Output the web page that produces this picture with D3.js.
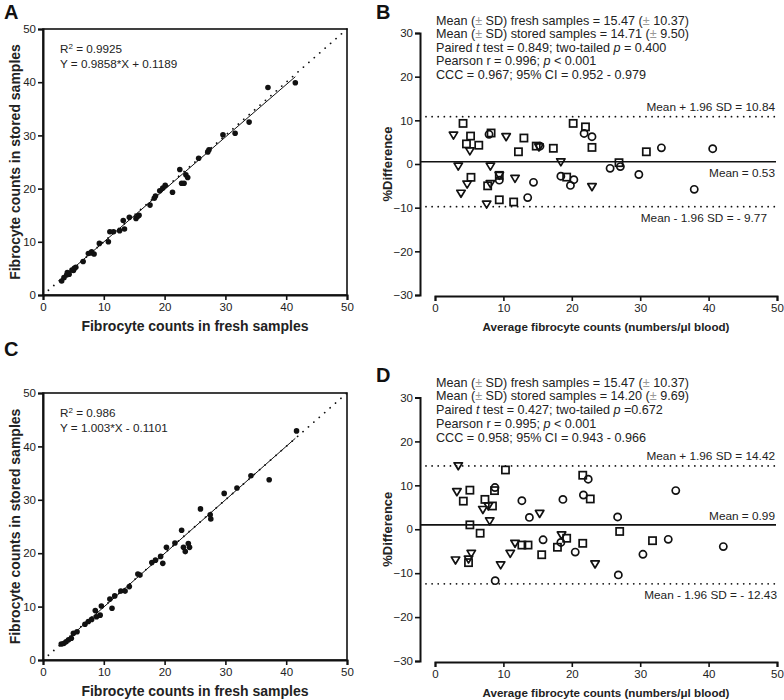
<!DOCTYPE html>
<html><head><meta charset="utf-8">
<script src="https://cdn.jsdelivr.net/npm/d3@7"></script>
<style>
body{margin:0;background:#fff;}
svg{display:block;font-family:"Liberation Sans",Arial,sans-serif;}
</style></head>
<body><svg id="c" width="784" height="700"></svg>
<script>
// ---------- DATA ----------
const ticks50 = [0,10,20,30,40,50];
const ticksPct = [-30,-20,-10,0,10,20,30];

// Panel A: fresh (x) vs stored (y)
const aPoints = [[3.07,2.63],[3.45,3.26],[3.9,3.76],[4.3,3.9],[4.0,4.2],[4.77,4.7],[5.0,4.6],[5.15,5.0],[5.4,5.2],[6.6,6.3],[7.46,7.8],[7.9,7.9],[8.0,8.1],[8.4,7.7],[9.27,9.7],[10.75,10.0],[11.0,11.9],[11.6,11.9],[12.6,12.1],[13.2,14.0],[13.4,12.4],[14.2,14.6],[15.3,14.4],[15.6,14.8],[15.8,15.0],[17.6,16.9],[18.3,18.2],[18.5,18.6],[19.2,19.6],[19.7,20.1],[20.1,20.6],[21.3,19.3],[22.5,23.6],[22.8,21.0],[23.2,21.0],[23.5,22.6],[23.8,22.1],[25.6,25.7],[27.1,26.9],[27.3,27.3],[29.6,30.1],[31.6,30.4],[33.9,32.5],[37.0,39.0],[41.5,39.9]];
const aFit = {slope:0.9858, intercept:0.1189, from:3, to:41.5};
const aText = ["0.9925","Y = 0.9858*X + 0.1189"];

// Panel C
const cPoints = [[3.0,3.0],[3.4,3.1],[3.8,3.4],[4.2,3.8],[4.66,4.06],[5.0,5.0],[5.6,5.3],[6.9,6.7],[7.46,7.2],[8.0,7.6],[8.8,8.1],[9.4,8.4],[8.6,9.25],[9.6,10.1],[11.0,11.4],[11.35,9.7],[11.8,12.0],[12.8,12.9],[13.5,12.9],[14.2,13.75],[15.6,16.1],[15.95,15.9],[17.9,18.25],[18.5,18.7],[19.35,19.4],[19.7,18.1],[20.3,21.1],[21.7,21.9],[22.8,24.3],[23.1,21.1],[23.4,20.3],[23.9,21.8],[24.1,21.1],[25.9,28.3],[27.5,27.2],[27.6,26.4],[29.8,31.2],[31.9,32.2],[34.2,34.5],[37.2,33.75],[41.7,42.9]];
const cFit = {slope:1.003, intercept:-0.1101, from:3, to:41.5};
const cText = ["0.986","Y = 1.003*X - 0.1101"];

// Panel B: Bland-Altman (average, %difference)
const bSquares = [[4.1,9.3],[5.2,6.4],[4.6,4.6],[6.4,4.3],[8.2,7.1],[13.0,5.95],[12.2,2.8],[14.8,4.1],[17.3,3.6],[20.2,9.3],[22.0,8.5],[22.95,3.8],[30.9,2.8],[26.9,0.3],[5.26,-3.05],[7.7,-5.0],[9.4,-8.2],[11.5,-8.7],[19.25,-3.0],[9.4,-2.6]];
const bCircles = [[7.9,6.8],[15.35,4.1],[21.8,7.0],[22.95,6.25],[33.1,3.7],[40.6,3.5],[25.6,-1.0],[27.1,-0.6],[29.8,-2.4],[37.9,-5.8],[9.4,-3.7],[14.4,-4.2],[13.55,-7.7],[18.4,-2.8],[19.8,-4.9],[20.3,-3.6]];
const bTriangles = [[2.7,6.6],[5.1,3.0],[10.4,6.25],[15.2,3.9],[18.4,0.5],[3.4,-0.5],[8.1,-0.5],[4.7,-4.6],[3.8,-6.7],[7.55,-9.2],[8.1,-4.5],[9.4,-2.6],[11.7,-3.3],[22.95,-5.2]];
const bLimits = {mean:0.53, upper:10.84, lower:-9.77};
const bLabels = ["Mean + 1.96 SD = 10.84","Mean = 0.53","Mean - 1.96 SD = - 9.77"];
const bStats = [
 [["Mean (",""],["±","pm"],[" SD) fresh samples = 15.47 (",""],["±","pm"],[" 10.37)",""]],
 [["Mean (",""],["±","pm"],[" SD) stored samples = 14.71 (",""],["±","pm"],[" 9.50)",""]],
 [["Paired ",""],["t","i"],[" test = 0.849; two-tailed ",""],["p","i"],[" = 0.400",""]],
 [["Pearson r = 0.996; ",""],["p","i"],[" < 0.001",""]],
 [["CCC = 0.967; 95% CI = 0.952 - 0.979",""]]
];

// Panel D
const dSquares = [[10.3,13.5],[21.6,12.3],[5.1,8.9],[4.14,6.4],[8.7,8.8],[7.3,6.8],[8.4,5.3],[22.7,6.9],[5.1,1.0],[6.6,-0.9],[27.0,-0.5],[4.9,-7.6],[12.7,-3.6],[13.6,-3.6],[15.6,-5.8],[17.9,-4.1],[19.25,-2.05],[21.6,-3.2],[31.8,-2.6]];
const dCircles = [[22.4,11.4],[8.77,9.5],[12.7,6.5],[18.7,6.8],[21.7,7.8],[13.8,2.7],[26.7,2.8],[35.2,8.8],[8.8,-11.7],[15.8,-2.4],[18.4,-3.0],[20.5,-5.2],[26.8,-10.4],[30.4,-5.7],[34.1,-2.3],[42.15,-3.95]];
const dTriangles = [[3.4,14.45],[3.2,8.55],[7.0,4.5],[7.8,5.3],[15.3,3.6],[8.0,1.9],[3.0,-7.0],[5.3,-5.5],[4.9,-6.8],[9.6,-8.1],[11.0,-5.5],[11.7,-3.2],[18.5,-1.3],[23.4,-7.9]];
const dLimits = {mean:0.99, upper:14.42, lower:-12.43};
const dLabels = ["Mean + 1.96 SD = 14.42","Mean = 0.99","Mean - 1.96 SD = - 12.43"];
const dStats = [
 [["Mean (",""],["±","pm"],[" SD) fresh samples = 15.47 (",""],["±","pm"],[" 10.37)",""]],
 [["Mean (",""],["±","pm"],[" SD) stored samples = 14.20 (",""],["±","pm"],[" 9.69)",""]],
 [["Paired ",""],["t","i"],[" test = 0.427; two-tailed ",""],["p","i"],[" =0.672",""]],
 [["Pearson r = 0.995; ",""],["p","i"],[" < 0.001",""]],
 [["CCC = 0.958; 95% CI = 0.943 - 0.966",""]]
];

// ---------- DRAW ----------
const svg = d3.select("#c");
const INK = "#111";
const TXT = "#222";

function letter(t,x,y){
  svg.append("text").attr("x",x).attr("y",y).attr("font-size",20).attr("font-weight","bold").attr("fill",INK).text(t);
}
function styleAxis(a){
  a.select(".domain").attr("stroke",INK).attr("stroke-width",2);
  a.selectAll(".tick line").attr("stroke",INK).attr("stroke-width",1.6);
  a.selectAll("text").attr("font-size",11.5).attr("fill",TXT).attr("font-family","Liberation Sans, Arial, sans-serif");
}

function scatterPanel(pts, fit, txt, top, bottom){
  const x = d3.scaleLinear().domain([0,50]).range([43,347]);
  const y = d3.scaleLinear().domain([0,50]).range([bottom,top]);
  const g = svg.append("g");
  g.append("rect").attr("x",43).attr("y",top).attr("width",304).attr("height",bottom-top)
    .attr("fill","none").attr("stroke",INK).attr("stroke-width",1.6);
  const xa = g.append("g").attr("transform",`translate(0,${bottom})`)
    .call(d3.axisBottom(x).tickValues(ticks50).tickSize(5).tickPadding(3));
  const ya = g.append("g").attr("transform",`translate(43,0)`)
    .call(d3.axisLeft(y).tickValues(ticks50).tickSize(5).tickPadding(2));
  styleAxis(xa); styleAxis(ya);
  g.append("line").attr("x1",x(0)).attr("y1",y(0)).attr("x2",x(50)).attr("y2",y(50))
    .attr("stroke",INK).attr("stroke-width",1.8).attr("stroke-dasharray","0.01,7.2").attr("stroke-linecap","round");
  g.append("line").attr("x1",x(fit.from)).attr("y1",y(fit.slope*fit.from+fit.intercept))
    .attr("x2",x(fit.to)).attr("y2",y(fit.slope*fit.to+fit.intercept))
    .attr("stroke",INK).attr("stroke-width",1);
  g.selectAll("circle.pt").data(pts).join("circle")
    .attr("cx",d=>x(d[0])).attr("cy",d=>y(d[1])).attr("r",2.8).attr("fill",INK);
  const t1 = g.append("text").attr("x",60).attr("y",top+24).attr("font-size",11.7).attr("fill",TXT);
  t1.append("tspan").text("R");
  t1.append("tspan").attr("font-size",8).attr("dy",-4.5).text("2");
  t1.append("tspan").attr("dy",4.5).text(" = " + txt[0]);
  g.append("text").attr("x",60).attr("y",top+38.5).attr("font-size",11.7).attr("fill",TXT).text(txt[1]);
  g.append("text").attr("x",195).attr("y",bottom+36).attr("text-anchor","middle")
    .attr("font-size",14).attr("font-weight","bold").attr("fill",TXT).text("Fibrocyte counts in fresh samples");
  g.append("text").attr("transform",`translate(20,${(top+bottom)/2}) rotate(-90)`).attr("text-anchor","middle")
    .attr("font-size",14).attr("font-weight","bold").attr("fill",TXT).text("Fibrocyte counts in stored samples");
}

function baPanel(sq, ci, tr, lim, labels, stats, top, bottom, statY, statStep, meanAbove){
  const x = d3.scaleLinear().domain([0,50]).range([435,777]);
  const y = d3.scaleLinear().domain([-30,30]).range([bottom,top]);
  const g = svg.append("g");
  const xa = g.append("g").attr("transform",`translate(0,${bottom+1})`)
    .call(d3.axisBottom(x).tickValues(ticks50).tickSize(5).tickPadding(3));
  const ya = g.append("g").attr("transform",`translate(420,0)`)
    .call(d3.axisLeft(y).tickValues(ticksPct).tickSize(5).tickPadding(2));
  styleAxis(xa); styleAxis(ya);
  [lim.upper, lim.lower].forEach(v=>{
    g.append("line").attr("x1",426).attr("x2",776).attr("y1",y(v)).attr("y2",y(v))
      .attr("stroke",INK).attr("stroke-width",1.8).attr("stroke-dasharray","0.01,6.1").attr("stroke-linecap","round");
  });
  g.append("line").attr("x1",421).attr("x2",776).attr("y1",y(lim.mean)).attr("y2",y(lim.mean))
    .attr("stroke",INK).attr("stroke-width",1.6);
  const lab = (t,yy,xx)=>g.append("text").attr("x",xx).attr("y",yy).attr("text-anchor","end")
    .attr("font-size",11.8).attr("fill",TXT).text(t);
  lab(labels[0], y(lim.upper)-6, 775);
  lab(labels[1], meanAbove ? y(lim.mean)-5 : y(lim.mean)+15, 775);
  lab(labels[2], y(lim.lower)+15, meanAbove ? 777 : 767);
  const mk = g.append("g").attr("fill","none").attr("stroke",INK).attr("stroke-width",1.7);
  mk.selectAll("rect").data(sq).join("rect")
    .attr("x",d=>x(d[0])-3.6).attr("y",d=>y(d[1])-3.6).attr("width",7.2).attr("height",7.2);
  mk.selectAll("circle").data(ci).join("circle")
    .attr("cx",d=>x(d[0])).attr("cy",d=>y(d[1])).attr("r",3.6);
  mk.selectAll("path").data(tr).join("path")
    .attr("d",d=>{const cx=x(d[0]), cy=y(d[1]); return `M${cx-4.2},${cy-3} L${cx+4.2},${cy-3} L${cx},${cy+4} Z`;})
    .attr("stroke-linejoin","round");
  stats.forEach((line,i)=>{
    const t = g.append("text").attr("x",436).attr("y",statY+i*statStep).attr("font-size",12.6).attr("fill",TXT);
    line.forEach(([s,st])=>{
      const sp = t.append("tspan").text(s);
      if(st==="i") sp.attr("font-style","italic");
      if(st==="pm") sp.attr("fill","#999");
    });
  });
  g.append("text").attr("x",606).attr("y",bottom+36).attr("text-anchor","middle")
    .attr("font-size",11.6).attr("font-weight","bold").attr("fill",TXT).text("Average fibrocyte counts (numbers/\u03BCl blood)");
  g.append("text").attr("transform",`translate(392,${(top+bottom)/2}) rotate(-90)`).attr("text-anchor","middle")
    .attr("font-size",13).attr("font-weight","bold").attr("fill",TXT).text("%Difference");
}

scatterPanel(aPoints, aFit, aText, 29, 295);
scatterPanel(cPoints, cFit, cText, 393, 660);
baPanel(bSquares,bCircles,bTriangles,bLimits,bLabels,bStats,33,295,24.5,13.5,false);
baPanel(dSquares,dCircles,dTriangles,dLimits,dLabels,dStats,397.5,661,386.5,13.75,true);
letter("A",4,19); letter("B",376,19); letter("C",4,356); letter("D",376,382);
</script></body></html>
